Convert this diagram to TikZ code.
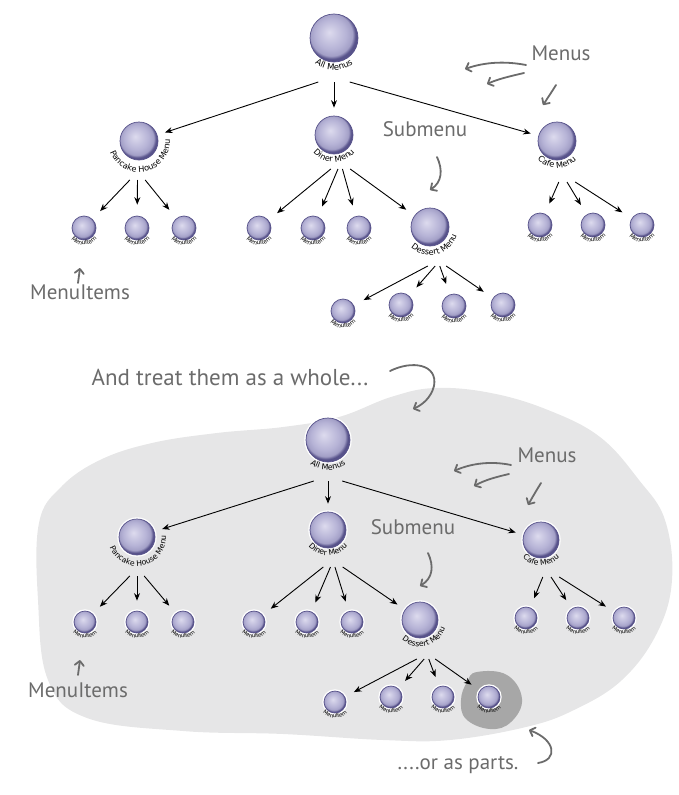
\documentclass[tikz,border=0pt]{standalone}
\usepackage{fontspec}
\setmainfont{DejaVu Sans}
\newfontfamily\handfont{PT Sans}
\newfontfamily\lblfont{DejaVu Sans}
\usetikzlibrary{arrows.meta,decorations.text,calc}
\definecolor{orbhi}{HTML}{DDDBEE}
\definecolor{orbmid}{HTML}{B6B3D6}
\definecolor{orbedge}{HTML}{57528A}
\definecolor{blobc}{HTML}{E6E6E7}
\definecolor{darkblob}{HTML}{A7A7A7}
\definecolor{hand}{HTML}{6B6B6B}
\pgfdeclareradialshading{orb}{\pgfpoint{-5bp}{6bp}}{color(0bp)=(orbhi); color(7bp)=(orbhi!55!orbmid); color(16bp)=(orbmid); color(22bp)=(orbmid!80!orbedge); color(25bp)=(orbedge); color(50bp)=(orbedge)}
\newcommand\fAM{\lblfont\fontsize{8.5}{9}\selectfont}
\newcommand\fMN{\lblfont\fontsize{8.2}{9}\selectfont}
\newcommand\fIT{\lblfont\fontsize{5.8}{6}\selectfont}
\newcommand\fAMb{\lblfont\fontsize{7.9}{8}\selectfont}
\newcommand\fMNb{\lblfont\fontsize{7.7}{8}\selectfont}
\newcommand\fITb{\lblfont\fontsize{5.4}{6}\selectfont}
\newcommand\arclbl[6]{%
  \path[decorate,decoration={text along path,text align=center,text={|#5|#6}}]
    ([shift={(#3:#2pt)}]#1.center) arc[start angle=#3,end angle=#4,radius=#2pt];}
\tikzset{
  orb/.style={circle,shading=orb,draw=orbedge,line width=0.7pt,minimum size=#1,inner sep=0pt},
  horb/.style={orb=#1,preaction={draw=white,line width=3.4pt}},
  src/.style={rectangle,minimum width=#1,minimum height=0pt,inner sep=0pt},
  conn/.style={-{Stealth[length=7.5pt,width=6pt]},line width=0.9pt,shorten >=#1},
  handtext/.style={text=hand,font=\handfont\fontsize{21}{21}\selectfont,inner sep=0pt},
  handarrow/.style={draw=hand,line width=1.8pt,line cap=round,line join=round,
    -{Straight Barb[length=4.5pt,width=9pt,line cap=round,line join=round]}}
}
\begin{document}
\begin{tikzpicture}[x=1pt,y=1pt]
\useasboundingbox (0,0) rectangle (679,-795);
% ---------- background blobs ----------
\fill[blobc] plot[smooth cycle,tension=0.65] coordinates {
 (39,-523) (61,-487) (100,-460) (152,-443) (217,-433) (283,-427) (339,-417)
 (391,-397) (435,-388) (491,-393) (548,-410) (600,-437) (639,-480) (665,-520)
 (672,-580) (657,-633) (622,-680) (574,-710) (526,-727) (450,-740) (383,-740)
 (283,-734) (183,-731) (87,-718) (48,-680) (38,-600)};
\fill[darkblob] plot[smooth cycle,tension=0.7] coordinates {
 (477,-672) (507,-675) (522,-699) (511,-722) (490,-729) (466,-719) (461,-700) (467,-682)};
% ---------- top tree ----------
\node[orb=48pt] (am) at (334,-38) {};
\node[orb=38pt] (pc) at (139,-141) {};
\node[orb=38pt] (dn) at (334,-135) {};
\node[orb=38pt] (cf) at (557,-141) {};
\node[orb=24pt] (pc1) at (84,-228) {};
\node[orb=24pt] (pc2) at (137,-228) {};
\node[orb=24pt] (pc3) at (184,-228) {};
\node[orb=24pt] (dn1) at (259,-228) {};
\node[orb=24pt] (dn2) at (313,-228) {};
\node[orb=24pt] (dn3) at (359,-228) {};
\node[orb=38pt] (ds) at (430,-227) {};
\node[orb=24pt] (cf1) at (540,-225) {};
\node[orb=24pt] (cf2) at (593,-225) {};
\node[orb=24pt] (cf3) at (642,-225) {};
\node[orb=24pt] (ds1) at (343,-311) {};
\node[orb=24pt] (ds2) at (401,-305) {};
\node[orb=24pt] (ds3) at (454,-306) {};
\node[orb=24pt] (ds4) at (503,-305) {};
\arclbl{am}{32}{200}{340}{\fAM}{All Menus}
\arclbl{pc}{31}{157}{407}{\fMN}{Pancake House Menu}
\arclbl{dn}{27}{170}{370}{\fMN}{Diner Menu}
\arclbl{cf}{27}{170}{370}{\fMN}{Cafe Menu}
\arclbl{ds}{28}{160}{410}{\fMN}{Dessert Menu}
\foreach \n in {pc1,pc2,pc3,dn1,dn2,dn3,cf1,cf2,cf3,ds1,ds2,ds3,ds4}{\arclbl{\n}{17}{190}{350}{\fIT}{MenuItem}}
\node[src=31pt] (amS) at (334,-82) {};
\node[src=15pt] (pcS) at (137.5,-180) {};
\node[src=19pt] (dnS) at (340.5,-169) {};
\node[src=18pt] (dsS) at (437,-266) {};
\node[src=16pt] (cfS) at (567,-182) {};
\draw[conn=8pt] (amS.west) -- (pc);
\draw[conn=8pt] (amS.center) -- (dn);
\draw[conn=8pt] (amS.east) -- (cf);
\draw[conn=11pt] (pcS.west) -- (pc1);
\draw[conn=11pt] (pcS.center) -- (pc2);
\draw[conn=11pt] (pcS.east) -- (pc3);
\draw[conn=11pt] (dnS.west) -- (dn1);
\draw[conn=11pt] ($(dnS.west)!.37!(dnS.east)$) -- (dn2);
\draw[conn=11pt] ($(dnS.west)!.6!(dnS.east)$) -- (dn3);
\draw[conn=10pt] (dnS.east) -- (ds);
\draw[conn=11pt] (cfS.west) -- (cf1);
\draw[conn=11pt] (cfS.center) -- (cf2);
\draw[conn=11pt] (cfS.east) -- (cf3);
\draw[conn=11pt] (dsS.west) -- (ds1);
\draw[conn=11pt] ($(dsS.west)!.4!(dsS.east)$) -- (ds2);
\draw[conn=11pt] ($(dsS.west)!.65!(dsS.east)$) -- (ds3);
\draw[conn=11pt] (dsS.east) -- (ds4);
% top annotations
\node[handtext] (tMenus) at (561,-53) {Menus};
\node[handtext] (tSub) at (425,-129) {Submenu};
\node[handtext] (tItems) at (80,-292) {MenuItems};
\draw[handarrow] (526,-65) .. controls (505,-61) and (485,-62) .. (465,-69);
\draw[handarrow] (524,-73) .. controls (511,-76) and (498,-79) .. (487,-84);
\draw[handarrow] (556,-85) .. controls (551,-93) and (547,-99) .. (543,-105);
\draw[handarrow] (437,-157) .. controls (443,-170) and (442,-182) .. (430,-190);
\draw[handarrow] (78,-283) -- (80,-268);
% middle text
\node[handtext,font=\handfont\fontsize{23}{23}\selectfont] (tWhole) at (230,-377) {And treat them as a whole...};
\draw[handarrow] (390,-371) .. controls (412,-360) and (438,-364) .. (434,-386)
   .. controls (431,-398) and (422,-405) .. (413,-409);
% ---------- bottom tree ----------
\node[horb=44pt] (bam) at (328,-440) {};
\node[horb=36pt] (bpc) at (137,-537) {};
\node[horb=36pt] (bdn) at (328,-530) {};
\node[horb=36pt] (bcf) at (541,-540) {};
\node[horb=22pt] (bpc1) at (85,-622) {};
\node[horb=22pt] (bpc2) at (137,-622) {};
\node[horb=22pt] (bpc3) at (183,-622) {};
\node[horb=22pt] (bdn1) at (254,-622) {};
\node[horb=22pt] (bdn2) at (307,-622) {};
\node[horb=22pt] (bdn3) at (352,-622) {};
\node[horb=36pt] (bds) at (420,-620) {};
\node[horb=22pt] (bcf1) at (526,-618) {};
\node[horb=22pt] (bcf2) at (578,-618) {};
\node[horb=22pt] (bcf3) at (624,-618) {};
\node[horb=22pt] (bds1) at (335,-702) {};
\node[horb=22pt] (bds2) at (391,-697) {};
\node[horb=22pt] (bds3) at (443,-697) {};
\node[horb=22pt] (bds4) at (489,-697) {};
\arclbl{bam}{30}{200}{340}{\fAMb}{All Menus}
\arclbl{bpc}{29}{157}{407}{\fMNb}{Pancake House Menu}
\arclbl{bdn}{25.5}{170}{370}{\fMNb}{Diner Menu}
\arclbl{bcf}{25.5}{170}{370}{\fMNb}{Cafe Menu}
\arclbl{bds}{26.5}{160}{410}{\fMNb}{Dessert Menu}
\foreach \n in {bpc1,bpc2,bpc3,bdn1,bdn2,bdn3,bcf1,bcf2,bcf3,bds1,bds2,bds3,bds4}{\arclbl{\n}{16}{190}{350}{\fITb}{MenuItem}}
\node[src=28pt] (bamS) at (328,-481) {};
\node[src=14pt] (bpcS) at (137,-576) {};
\node[src=19pt] (bdnS) at (333,-567) {};
\node[src=18pt] (bdsS) at (426,-659) {};
\node[src=16pt] (bcfS) at (551,-577) {};
\draw[conn=8pt] (bamS.west) -- (bpc);
\draw[conn=8pt] (bamS.center) -- (bdn);
\draw[conn=8pt] (bamS.east) -- (bcf);
\draw[conn=10pt] (bpcS.west) -- (bpc1);
\draw[conn=10pt] (bpcS.center) -- (bpc2);
\draw[conn=10pt] (bpcS.east) -- (bpc3);
\draw[conn=10pt] (bdnS.west) -- (bdn1);
\draw[conn=10pt] ($(bdnS.west)!.37!(bdnS.east)$) -- (bdn2);
\draw[conn=10pt] ($(bdnS.west)!.6!(bdnS.east)$) -- (bdn3);
\draw[conn=9pt] (bdnS.east) -- (bds);
\draw[conn=10pt] (bcfS.west) -- (bcf1);
\draw[conn=10pt] (bcfS.center) -- (bcf2);
\draw[conn=10pt] (bcfS.east) -- (bcf3);
\draw[conn=10pt] (bdsS.west) -- (bds1);
\draw[conn=10pt] ($(bdsS.west)!.4!(bdsS.east)$) -- (bds2);
\draw[conn=10pt] ($(bdsS.west)!.65!(bdsS.east)$) -- (bds3);
\draw[conn=10pt] (bdsS.east) -- (bds4);
% bottom annotations
\node[handtext] (bMenus) at (547,-455) {Menus};
\node[handtext] (bSub) at (413,-527) {Submenu};
\node[handtext] (bItems) at (78,-690) {MenuItems};
\node[handtext] (tParts) at (458,-765) {....or as parts.};
\draw[handarrow] (511,-465) .. controls (492,-461) and (472,-463) .. (454,-471);
\draw[handarrow] (509,-474) .. controls (496,-477) and (485,-480) .. (474,-486);
\draw[handarrow] (541,-483) .. controls (536,-491) and (532,-498) .. (528,-505);
\draw[handarrow] (428,-553) .. controls (434,-566) and (433,-578) .. (420,-586);
\draw[handarrow] (78,-675) -- (80,-660);
\draw[handarrow] (538,-763) .. controls (558,-760) and (556,-740) .. (529,-730);
\end{tikzpicture}
\end{document}
